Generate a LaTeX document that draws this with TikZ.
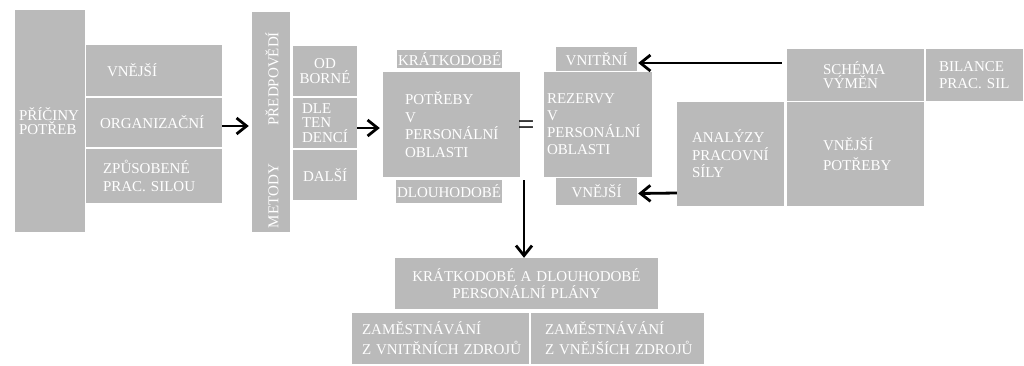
\documentclass[tikz,border=0pt]{standalone}
\usepackage{fontspec}
\setmainfont{Liberation Serif}
\usetikzlibrary{arrows.meta}
\definecolor{boxgray}{RGB}{186,186,186}
\newcommand\mybox[8]{%
  \pgfmathsetmacro\mybw{#4-#2}%
  \pgfmathsetmacro\mybh{#5-#3}%
  \pgfmathsetmacro\mytw{#4-#2-2*#6}%
  \node[box,minimum width=\mybw pt,minimum height=\mybh pt,text width=\mytw pt,inner xsep=#6pt,#7]
    (#1) at ({(#2+#4)/2},{(#3+#5)/2}) {#8};}
\tikzset{
  box/.style={fill=boxgray, inner ysep=0pt, text=white, align=left, anchor=center,
    font=\fontsize{15}{17}\selectfont},
  arr/.style={line width=2.8pt, -{Straight Barb[length=10pt,width=16pt]}},
  fs/.style={font=\fontsize{15}{#1}\selectfont},
}
\begin{document}
\begin{tikzpicture}[x=1pt,y=-1pt]
\useasboundingbox (0,0) rectangle (1024,365);
% left group
\mybox{pricin}{15}{10}{85}{232}{4}{fs=14}{PŘÍČINY\\POTŘEB}
\mybox{vnejsia}{86}{45}{222}{96}{21}{}{VNĚJŠÍ}
\mybox{organiz}{86}{98}{222}{147}{14}{}{ORGANIZAČNÍ}
\mybox{zpusob}{86}{149}{222}{203}{17}{fs=18}{ZPŮSOBENÉ\\PRAC.~SILOU}
% methods
\mybox{metody}{252}{12}{290}{232}{2}{}{}
\node[text=white, font=\fontsize{15}{17}\selectfont, rotate=90, text width=196pt, align=left, inner sep=0pt]
  (metodyt) at (272,130) {METODY\hfill PŘEDPOVĚDÍ};
\mybox{odborne}{293}{46}{357}{96}{4}{fs=15,align=center}{OD\\BORNÉ}
\mybox{dle}{293}{98}{357}{148}{9}{fs=14.5}{DLE\\TEN\\DENCÍ}
\mybox{dalsi}{293}{150}{357}{200}{10}{}{DALŠÍ}
% needs
\mybox{kratk}{397}{50}{502}{68}{1}{align=center}{KRÁTKODOBÉ}
\mybox{potreby}{383}{72}{520}{177}{22}{fs=17.5}{POTŘEBY\\V\\PERSONÁLNÍ\\OBLASTI}
\mybox{dlouh}{396}{180}{502}{203}{1}{align=center}{DLOUHODOBÉ}
\node[font=\fontsize{30}{30}\selectfont, inner sep=0pt] (eq) at (526,128) {=};
% reserves
\mybox{vnitrni}{556}{47}{637}{71}{2}{align=center}{VNITŘNÍ}
\mybox{rezervy}{544}{72}{652}{177}{3}{fs=17}{REZERVY\\V\\PERSONÁLNÍ\\OBLASTI}
\mybox{vnejsib}{556}{178}{637}{205}{2}{align=center}{VNĚJŠÍ}
% right group
\mybox{analyzy}{677}{102}{784}{206}{15}{fs=17.5}{ANALÝZY\\PRACOVNÍ\\SÍLY}
\mybox{schema}{787}{49}{924}{101}{36}{fs=14}{SCHÉMA\\VÝMĚN}
\mybox{bilance}{926}{49}{1023}{101}{13}{fs=17}{BILANCE\\PRAC.~SIL}
\mybox{vnpotreby}{787}{102}{924}{206}{36}{fs=20}{VNĚJŠÍ\\POTŘEBY}
% plans
\mybox{plany}{395}{258}{658}{309}{4}{fs=16.5,align=center}{KRÁTKODOBÉ A DLOUHODOBÉ\\PERSONÁLNÍ PLÁNY}
\mybox{zama}{352}{313}{529}{364}{10}{fs=20}{ZAMĚSTNÁVÁNÍ\\Z~VNITŘNÍCH~ZDROJŮ}
\mybox{zamb}{531}{313}{704}{364}{14}{fs=20}{ZAMĚSTNÁVÁNÍ\\Z~VNĚJŠÍCH~ZDROJŮ}
% connectors
\draw[arr] ([yshift=-3.5pt]organiz.east) -- ([xshift=-3pt,yshift=-4pt]metody.west);
\draw[arr] ([yshift=-5pt]dle.east) -- ([xshift=-3pt,yshift=-3.5pt]potreby.west);
\draw[arr] ([xshift=-5pt,yshift=12pt]schema.west) -- ([xshift=1pt,yshift=-4pt]vnitrni.east);
\draw[arr] ([yshift=-39pt]analyzy.west) -- ([xshift=1pt,yshift=-2pt]vnejsib.east);
\coordinate (vstart) at (524,180);
\draw[arr] (vstart) -- (vstart |- plany.north);
\end{tikzpicture}
\end{document}
